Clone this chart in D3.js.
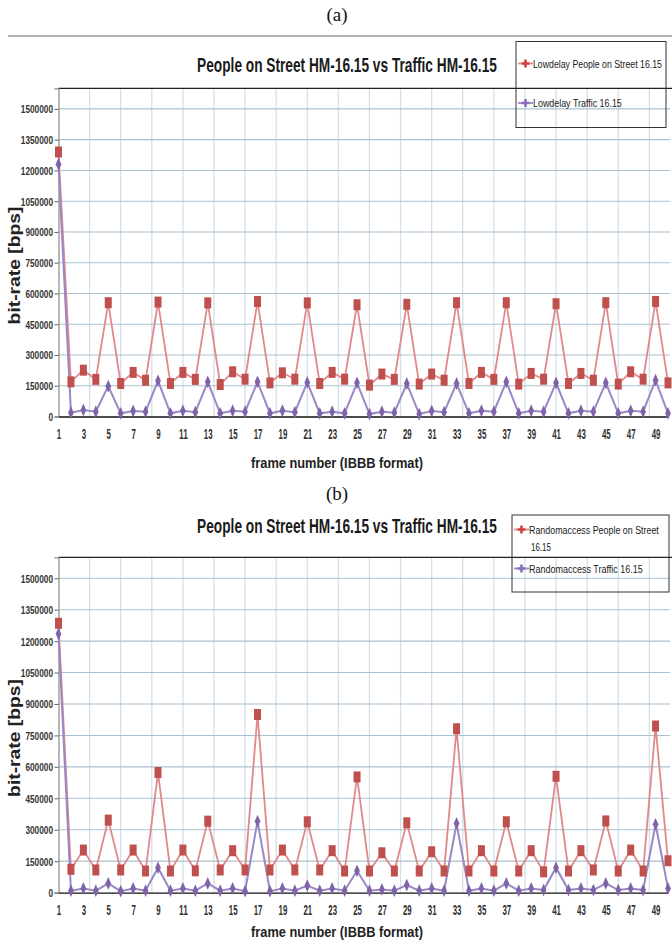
<!DOCTYPE html>
<html><head><meta charset="utf-8">
<script src="https://cdn.jsdelivr.net/npm/d3@7"></script>
<style>
html,body{margin:0;padding:0;background:#fff;}
svg{display:block;}
.nar{font-family:"Liberation Sans Narrow","Arial Narrow","Liberation Sans",Arial,sans-serif;}
</style></head>
<body><svg id="c" width="672" height="944"></svg>
<script>
// ---------- data ----------
const frames = d3.range(1, 51);
const xTickLabels = d3.range(1, 50, 2);
const yTicks = [0,150000,300000,450000,600000,750000,900000,1050000,1200000,1350000,1500000];

const lowdelayPeople = [1290000,169000,226000,181000,555000,161000,215000,177000,558000,161000,
  215000,181000,554000,156000,218000,182000,561000,164000,213000,182000,
  554000,161000,215000,182000,545000,153000,207000,181000,547000,158000,
  207000,177000,555000,161000,215000,181000,555000,158000,210000,182000,
  550000,161000,210000,177000,555000,158000,218000,182000,561000,164000];
const lowdelayTraffic = [1230000,18500,31600,23500,148000,15500,26700,23500,174000,15500,
  28000,21000,169000,15500,28000,23500,169000,15500,28000,21000,
  166000,15500,23500,15500,164000,12000,23500,18500,161000,12000,
  26700,21000,161000,15500,28000,23500,169000,15500,28000,23500,
  164000,15500,28000,23500,164000,15500,28000,23500,177000,15500];
const randomPeople = [1285000,111000,203000,108000,346000,108000,203000,103000,573000,103000,
  203000,104000,341000,108000,200000,108000,850000,108000,203000,108000,
  338000,108000,200000,103000,552000,103000,190000,103000,333000,103000,
  195000,103000,782000,103000,200000,103000,338000,103000,200000,99000,
  555000,103000,200000,108000,342000,103000,203000,103000,795000,152000];
const randomTraffic = [1235000,9000,20000,9000,44000,7000,20000,9000,119000,9000,
  20000,9000,44000,9000,20000,7000,341000,7000,20000,9000,
  33000,9000,20000,9000,104000,9000,15000,9000,36000,9000,
  20000,9000,330000,9000,20000,9000,44000,9000,20000,12000,
  119000,12000,20000,12000,44000,12000,20000,12000,326000,20000];

const charts = [
  {label:"(a)", title:"People on Street HM-16.15 vs Traffic HM-16.15",
   legend:[["Lowdelay People on Street 16.15"],["Lowdelay Traffic 16.15"]],
   legendW:[[129],[89]],
   people:lowdelayPeople, traffic:lowdelayTraffic,
   top:88.4, bottom:416.5, labelY:21, titleY:72, xTitleY:468, sep:true,
   leg:{x:516,y:41.5,w:150,h:86, y1:63.5, y2:103}},
  {label:"(b)", title:"People on Street HM-16.15 vs Traffic HM-16.15",
   legend:[["Randomaccess People on Street","16.15"],["Randomaccess Traffic 16.15"]],
   legendW:[[130,20],[114]],
   people:randomPeople, traffic:randomTraffic,
   top:557.3, bottom:892.6, labelY:500, titleY:533, xTitleY:937, sep:false,
   leg:{x:512,y:515,w:157,h:77, y1:529.5, y2:568.5}}
];

// squeeze a text horizontally so it spans width w
function fit(sel, w, rot) {
  const n = sel.node();
  const L = n.getComputedTextLength();
  const sx = L > 0 ? w / L : 1;
  const x = +sel.attr("x") || 0, y = +sel.attr("y") || 0;
  sel.attr("x", 0).attr("y", 0)
     .attr("transform", `translate(${x},${y})${rot ? " rotate(" + rot + ")" : ""} scale(${sx},1)`);
}

const svg = d3.select("#c");
const left = 58.5, right = 668;
const redLine = "#e0898b", redMark = "#c0504d";
const purLine = "#9b87c6", purMark = "#7f63a8";

charts.forEach(c => {
  const g = svg.append("g");
  const x = d3.scaleLinear().domain([1, 50]).range([left, right]);
  const y = d3.scaleLinear().domain([0, 1600000]).range([c.bottom, c.top]);

  g.append("text").attr("x", 337).attr("y", c.labelY).attr("text-anchor","middle")
    .attr("font-family","'Liberation Serif','Times New Roman',serif").attr("font-size",19)
    .attr("fill","#111").text(c.label);
  if (c.sep) g.append("line").attr("x1",8).attr("x2",672).attr("y1",36).attr("y2",36)
    .attr("stroke","#9a9a9a").attr("stroke-width",1.5);

  // vertical gridlines
  const vg = d3.range(1, 20).map(k => 1 + 2.5*k);
  g.append("g").selectAll("line").data(vg).join("line")
    .attr("x1", d=>x(d)).attr("x2", d=>x(d)).attr("y1", c.top).attr("y2", c.bottom)
    .attr("stroke","#d3e0e9").attr("stroke-width",1.3);
  // horizontal gridlines
  g.append("g").selectAll("line").data(yTicks.filter(v=>v>0)).join("line")
    .attr("x1", left).attr("x2", right+2).attr("y1", d=>y(d)).attr("y2", d=>y(d))
    .attr("stroke","#a9c0d0").attr("stroke-width",1.1);

  // top border
  g.append("line").attr("x1",left).attr("x2",672).attr("y1",c.top).attr("y2",c.top)
    .attr("stroke","#222").attr("stroke-width",1.2);

  // y axis
  const ya = d3.axisLeft(y).tickValues(yTicks).tickSize(4).tickFormat(d=>String(d));
  const yg = g.append("g").attr("transform",`translate(${left},0)`).call(ya);
  yg.select(".domain").attr("stroke","#8a8a8a").attr("stroke-width",1.2);
  yg.selectAll(".tick line").attr("stroke","#666");
  yg.selectAll(".tick text").attr("class","nar").attr("font-size",11)
    .attr("font-weight","bold").attr("fill","#333").attr("x",-5.5).attr("dy",null).attr("y",4)
    .each(function(d){ fit(d3.select(this), String(d).length*4.6); });

  // x axis
  const xa = d3.axisBottom(x).tickValues(xTickLabels).tickSize(0).tickFormat(d=>String(d));
  const xg = g.append("g").attr("transform",`translate(0,${c.bottom})`).call(xa);
  xg.select(".domain").attr("stroke","#111").attr("stroke-width",1.3);
  xg.selectAll(".tick text").attr("class","nar").attr("font-size",14)
    .attr("font-weight","bold").attr("fill","#333").attr("dy",null).attr("y",22.5)
    .each(function(d){ fit(d3.select(this), String(d).length*4.4); });

  // axis titles
  const xt = g.append("text").attr("class","nar").attr("x",337).attr("y",c.xTitleY)
    .attr("text-anchor","middle").attr("font-size",15.5).attr("font-weight","bold")
    .attr("fill","#222").text("frame number (IBBB format)");
  fit(xt, 172);
  const yc = (c.top + c.bottom)/2 + 13;
  const yt = g.append("text").attr("x",20).attr("y",yc)
    .attr("text-anchor","middle").attr("font-family","'Liberation Sans',Arial,sans-serif")
    .attr("font-size",16).attr("font-weight","bold").attr("fill","#222").text("bit-rate [bps]");
  fit(yt, 118, -90);

  // title
  const tt = g.append("text").attr("class","nar").attr("x",347).attr("y",c.titleY)
    .attr("text-anchor","middle").attr("font-size",21).attr("font-weight","bold")
    .attr("fill","#1a1a1a").text(c.title);
  fit(tt, 300);

  // series
  const line = arr => d3.line().x((d,i)=>x(frames[i])).y(d=>y(d))(arr);
  g.append("path").attr("d", line(c.people)).attr("fill","none")
    .attr("stroke",redLine).attr("stroke-width",1.8);
  g.append("path").attr("d", line(c.traffic)).attr("fill","none")
    .attr("stroke",purLine).attr("stroke-width",2);
  g.append("g").selectAll("rect").data(c.people).join("rect")
    .attr("x",(d,i)=>x(frames[i])-3.5).attr("y",d=>y(d)-5.5)
    .attr("width",7).attr("height",11).attr("fill",redMark);
  g.append("g").selectAll("path").data(c.traffic).join("path")
    .attr("transform",(d,i)=>`translate(${x(frames[i])},${y(d)}) scale(1,1.3)`)
    .attr("d", d3.symbol(d3.symbolDiamond, 28)).attr("fill",purMark);

  // legend
  const L = c.leg;
  g.append("rect").attr("x",L.x).attr("y",L.y).attr("width",L.w).attr("height",L.h)
    .attr("fill","none").attr("stroke","#333").attr("stroke-width",1);
  const items = [{y:L.y1, col:redLine, mk:"#d2403d", txt:c.legend[0], w:c.legendW[0]},
                 {y:L.y2, col:purLine, mk:"#8a6fb8", txt:c.legend[1], w:c.legendW[1]}];
  items.forEach(it => {
    g.append("line").attr("x1",L.x+2).attr("x2",L.x+17).attr("y1",it.y).attr("y2",it.y)
      .attr("stroke",it.col).attr("stroke-width",1.8);
    g.append("path").attr("transform",`translate(${L.x+9.5},${it.y})`)
      .attr("d", d3.symbol(d3.symbolCross, 34)).attr("fill",it.mk);
    it.txt.forEach((t,j) => {
      const tx = g.append("text").attr("class","nar")
        .attr("x", j===0 ? L.x+17 : L.x+19).attr("y", it.y + 4 + j*17)
        .attr("font-size",11.5).attr("fill","#1a1a1a").text(t);
      fit(tx, it.w[j]);
    });
  });
});
</script>
</body></html>
